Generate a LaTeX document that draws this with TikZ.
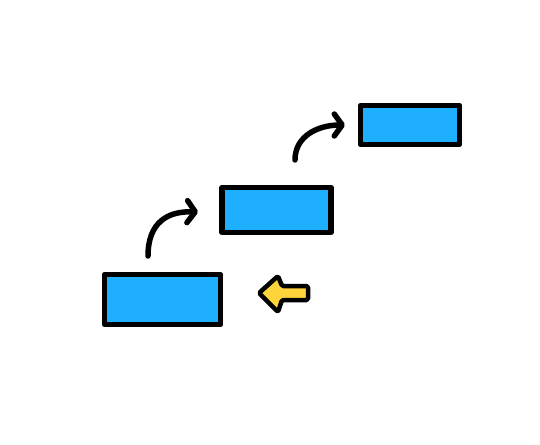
\documentclass[tikz,border=0pt]{standalone}
\usetikzlibrary{arrows.meta}
\definecolor{boxblue}{HTML}{1EB0FF}
\definecolor{arrowyellow}{HTML}{FFD43B}
\tikzset{
  stepbox/.style={draw=black, fill=boxblue, line width=5.5pt, line join=round, inner sep=0pt},
  curvearrow/.style={draw=black, line width=5.5pt, line cap=round, -{Straight Barb[length=8pt,width=22pt,line width=5.5pt,round]}},
  yarrow/.style={draw=black, fill=arrowyellow, line width=4.5pt, line join=round, rounded corners=1.5pt}
}
\begin{document}
\begin{tikzpicture}[x=1pt,y=-1pt]
\useasboundingbox (0,0) rectangle (540,444);
\fill[white] (0,0) rectangle (540,444);
\node[stepbox, minimum width=116pt, minimum height=50pt] (b1) at (162.5,299.5) {};
\node[stepbox, minimum width=109pt, minimum height=45pt] (b2) at (276.5,210) {};
\node[stepbox, minimum width=99pt, minimum height=39pt] (b3) at (410,125) {};
\coordinate (s1) at (148,256);
\coordinate (e1) at (198,212);
\coordinate (s2) at (295,160);
\coordinate (e2) at (345,125);
\draw[curvearrow] (s1) .. controls (148,222) and (168,211) .. (e1);
\draw[curvearrow] (s2) .. controls (295,136) and (318,125) .. (e2);
\coordinate (ytip) at (259,293);
\draw[yarrow] (ytip) -- (278,276) -- (282,286) -- (308,286) -- (308,300) -- (282,300) -- (278,312) -- cycle;
\end{tikzpicture}
\end{document}
